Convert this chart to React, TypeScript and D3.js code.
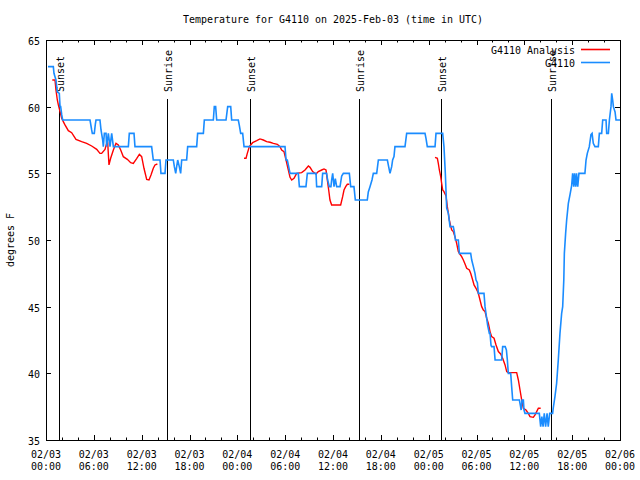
import React from 'react';
import * as d3 from 'd3';

// ---------------- DATA ----------------
const START = Date.UTC(2025, 1, 3, 0, 0);
const END = Date.UTC(2025, 1, 6, 0, 0);

const chartTitle = 'Temperature for G4110 on 2025-Feb-03 (time in UTC)';
const yAxisTitle = 'degrees F';
const seriesNames = ['G4110 Analysis', 'G4110'];
const seriesColors = ['#ff0000', '#1a8cff'];
const yTickValues = [35, 40, 45, 50, 55, 60, 65];

// Observations (hours after 2025-02-03 00:00 UTC, deg F)
const obsHours = [
  0.25, 0.92, 1.0, 1.25, 1.42, 1.67, 1.76, 1.84, 1.97, 2.09, 5.52, 5.73, 5.81, 6.06, 6.19, 6.27, 6.77, 6.9, 7.11, 7.19,
  7.32, 7.53, 7.61, 7.82, 8.03, 8.24, 8.45, 10.33, 10.45, 11.04, 11.16, 13.25, 13.46, 14.3, 14.42, 14.93, 15.05, 15.97,
  16.1, 16.27, 16.39, 16.52, 16.72, 16.89, 17.02, 17.64, 17.77, 18.9, 19.02, 19.74, 19.86, 20.99, 21.11, 21.28, 21.41,
  22.58, 22.79, 23.17, 23.29, 24.12, 24.25, 24.42, 24.67, 24.84, 29.98, 30.11, 30.27, 30.44, 30.61, 31.65, 31.78, 32.61,
  32.78, 33.87, 33.95, 34.58, 34.7, 35.2, 35.33, 35.54, 35.74, 35.83, 35.96, 36.13, 36.29, 36.46, 36.88, 37.09, 37.3,
  38.05, 38.22, 38.63, 38.8, 40.3, 40.43, 40.64, 40.89, 41.06, 41.48, 41.69, 42.82, 42.98, 43.15, 43.36, 43.48, 43.65,
  43.77, 45.03, 45.24, 47.54, 47.67, 47.83, 48.8, 48.92, 49.76, 49.84, 49.92, 50.09, 50.18, 50.26, 50.47, 50.68, 51.09,
  51.22, 51.35, 51.72, 51.85, 53.27, 53.4, 53.61, 53.81, 53.94, 54.11, 54.23, 54.94, 55.07, 55.28, 55.4, 55.61, 55.7,
  55.82, 55.9, 56.2, 56.33, 57.16, 57.28, 57.6, 57.75, 57.87, 57.99, 58.29, 58.41, 58.54, 59.38, 59.5, 59.6, 59.71,
  59.88, 59.96, 60.08, 61.88, 62.05, 62.2, 62.35, 62.5, 62.67, 62.85, 63.0, 63.18, 63.55, 63.63, 63.84, 64.05, 64.26,
  64.47, 64.68, 64.81, 64.95, 65.02, 65.18, 65.31, 65.52, 65.73, 65.94, 66.06, 66.2, 66.3, 66.45, 66.55, 66.7, 66.85,
  67.6, 67.74, 67.9, 68.15, 68.36, 68.5, 68.65, 68.86, 69.28, 69.41, 69.7, 69.83, 70.25, 70.33, 70.54, 70.67, 70.87,
  70.96, 71.08, 71.17, 71.38, 71.5, 72.0,
];
const obsTemps = [
  63, 63, 62.5, 62, 61.1, 61, 60, 60, 59.4, 59, 59, 58.25, 58, 58, 58.7, 59, 59, 58.25, 57.5, 57,
  58, 58, 57, 58, 57, 58, 57, 57, 58, 58, 57, 57, 56, 56, 55, 55, 56, 56,
  55.5, 55, 55.5, 56, 55.5, 55, 56, 56, 57, 57, 58, 58, 59, 59, 60, 60, 59,
  59, 60, 60, 59, 59, 58.6, 58, 58, 57, 57, 56, 56, 55.5, 55, 55, 54, 54,
  55, 55, 54, 54, 55, 55, 54.5, 54, 54, 54.5, 55, 54, 54.6, 54, 54, 54.8, 55,
  55, 54, 54, 53, 53, 53.6, 54, 54.5, 55, 55, 56, 56, 55.5, 55, 55.5, 56, 56.25,
  57, 57, 58, 58, 57.6, 57, 57, 58, 58, 57.5, 57, 55, 53.6, 52.4, 52, 51, 51,
  50.6, 50, 50, 49, 49, 48.5, 48, 47.5, 47, 46.8, 46, 46, 45, 44.1, 43.6, 43, 43,
  42.1, 42, 42, 41, 41, 42, 42, 41.75, 41, 40, 40, 39, 38, 38, 37.6, 37.25, 38,
  38, 37.25, 37, 37, 36, 36.75, 36, 37, 36, 37, 36, 37, 37, 37.4, 38.25, 39.25, 41,
  43, 44.5, 45, 47, 49, 50.5, 51.5, 52.75, 53.4, 54.1, 55, 54, 55, 54, 55, 54, 55,
  55, 56, 56.5, 57, 57.9, 58, 57.25, 57, 57, 58, 58, 59, 59, 58, 58, 59, 60,
  61, 60.5, 60, 59.6, 59, 59,
];

// Analysis (null = gap between runs)
const anaHours = [
  0.79, 1.13, 1.25, 1.42, 1.55, 1.76, 1.97, 2.17, 2.38, 2.8, 3.22, 3.76, 4.47, 5.1, 5.73, 6.36, 6.77, 6.98, 7.4, 7.61,
  7.74, 7.9, 8.11, 8.45, 8.78, 9.07, 9.37, 9.7, 10.2, 10.62, 10.95, 11.37, 11.71, 12.0, 12.29, 12.63, 12.92, 13.17,
  13.46, 13.67, 13.97, 19,
  24.84, 25.09, 25.25, 25.51, 25.67, 25.92, 26.43, 26.84, 27.26, 27.68, 28.1, 28.52, 29.02, 29.35, 29.56, 29.85, 30.11,
  30.4, 30.61, 30.82, 31.11, 31.44, 32.07, 32.49, 32.91, 33.12, 33.45, 33.87, 34.16, 34.58, 34.87, 35.12, 35.29, 35.46,
  35.62, 35.83, 36.38, 36.96, 37.21, 37.38, 37.59, 37.8, 38.05, 43,
  48.8, 49.09, 49.21, 49.34, 49.51, 49.63, 49.76, 49.92, 50.18, 50.34, 50.47, 50.59, 50.76, 50.89, 51.09, 51.3, 51.51,
  51.72, 51.93, 52.14, 52.35, 52.56, 52.77, 53.1, 53.27, 53.52, 53.69, 53.94, 54.23, 54.44, 54.65, 54.86, 55.07, 55.28,
  55.49, 55.7, 55.9, 56.2, 56.45, 56.74, 57.03, 57.28, 57.58, 57.79, 57.99, 59.04, 59.25, 59.46, 59.67, 59.88, 60.21,
  60.5, 60.71, 61.13, 61.34, 61.55, 61.76, 62.05,
];
const anaTemps: (number | null)[] = [
  62, 62, 61.25, 60.5, 60.13, 59.63, 59.13, 58.88, 58.63, 58.2, 58.05, 57.55, 57.38, 57.25, 57.05, 56.8, 56.5, 56.5, 56.8, 57.25,
  57.3, 55.63, 56.13, 56.75, 57.25, 57.13, 56.75, 56.25, 56.05, 55.8, 55.75, 56.1, 56.43, 56.25, 55.38, 54.55, 54.5, 54.88,
  55.38, 55.63, 55.7, null,
  56.13, 56.13, 56.5, 57.0, 57.13, 57.3, 57.45, 57.58, 57.5, 57.38, 57.33, 57.25, 57.18, 57.0, 56.75, 56.63, 56.0,
  55.25, 54.7, 54.5, 54.63, 55.0, 55.05, 55.25, 55.55, 55.45, 55.13, 54.95, 55.13, 55.25, 55.33, 55.25, 54.5, 53.75,
  53.0, 52.63, 52.63, 52.63, 53.25, 53.75, 54.0, 54.18, 54.18, null,
  56.2, 56.13, 55.75, 55.25, 54.75, 54.25, 53.75, 53.63, 53.3, 52.5, 52, 51.5, 51.05, 50.75, 50.63, 50.25, 49.75,
  49.13, 48.93, 48.75, 48.5, 48.2, 47.88, 47.75, 47.5, 47.0, 46.63, 46.38, 46.0, 45.5, 45.0, 44.75, 44.63, 44.13,
  43.75, 43.13, 42.75, 42.63, 42.13, 41.63, 41.45, 41.13, 40.63, 40.13, 40.05, 40.05, 39.5, 38.75, 38.0, 37.38, 37.25,
  37.0, 36.75, 36.7, 36.88, 37.13, 37.38, 37.38,
];

const sunEventHours = [1.67, 15.22, 25.59, 39.3, 49.55, 63.35];
const sunEventLabels = ['Sunset', 'Sunrise', 'Sunset', 'Sunrise', 'Sunset', 'Sunrise'];

// ---------------- LAYOUT ----------------
const W = 640;
const H = 480;
const L = 46;
const R = 620;
const TOP = 40;
const BOT = 440;
const FONT = "'DejaVu Sans Mono', 'Liberation Mono', monospace";
const CW = 6; // char width

const hourToDate = (h: number) => new Date(START + h * 3600 * 1000);

function Txt(props: {
  x: number; y: number; s: string; anchor?: 'start' | 'middle' | 'end'; rotate?: number; size?: number;
}) {
  const { x, y, s, anchor = 'start', rotate = 0, size = 11 } = props;
  return (
    <text
      transform={`translate(${x},${y}) rotate(${rotate})`}
      textAnchor={anchor}
      fontFamily={FONT}
      fontSize={size}
      fill="#000"
      textLength={s.length * CW}
      lengthAdjust="spacingAndGlyphs"
    >
      {s}
    </text>
  );
}

export default function App() {
  const x = d3.scaleUtc().domain([new Date(START), new Date(END)]).range([L, R]);
  const y = d3.scaleLinear().domain([35, 65]).range([BOT, TOP]);

  const majorTicks = x.ticks(d3.utcHour.every(6)!);
  const minorTicks = x.ticks(d3.utcHour.every(2)!).filter((d) => d.getUTCHours() % 6 !== 0);
  const fmtDate = d3.utcFormat('%m/%d');
  const fmtTime = d3.utcFormat('%H:%M');

  const obsData = obsHours.map((h, i) => ({ d: hourToDate(h), v: obsTemps[i] as number | null }));
  const anaData = anaHours.map((h, i) => ({ d: hourToDate(h), v: anaTemps[i] }));

  const line = d3
    .line<{ d: Date; v: number | null }>()
    .defined((p) => p.v !== null)
    .x((p) => x(p.d))
    .y((p) => y(p.v as number));

  const clipId = 'plotclip';

  return (
    <svg
      width={W}
      height={H}
      viewBox={`0 0 ${W} ${H}`}
      style={{ position: 'absolute', left: 0, top: 0, background: '#fff' }}
    >
      <rect x={0} y={0} width={W} height={H} fill="#fff" />
      <defs>
        <clipPath id={clipId}>
          <rect x={L} y={TOP} width={R - L} height={BOT - TOP} />
        </clipPath>
      </defs>

      {/* title */}
      <Txt x={(L + R) / 2} y={23} s={chartTitle} anchor="middle" />

      {/* y axis title */}
      <Txt x={14} y={(TOP + BOT) / 2} s={yAxisTitle} anchor="middle" rotate={-90} />

      {/* y ticks & labels */}
      {yTickValues.map((v) => (
        <g key={'y' + v}>
          <line x1={L} x2={L + 5} y1={Math.round(y(v)) + 0.5} y2={Math.round(y(v)) + 0.5} stroke="#000" />
          <line x1={R} x2={R - 5} y1={Math.round(y(v)) + 0.5} y2={Math.round(y(v)) + 0.5} stroke="#000" />
          <Txt x={40} y={y(v) + 5} s={String(v)} anchor="end" />
        </g>
      ))}

      {/* x ticks & labels */}
      {majorTicks.map((d) => {
        const px = Math.round(x(d)) + 0.5;
        return (
          <g key={'xm' + d.getTime()}>
            <line x1={px} x2={px} y1={BOT} y2={BOT - 5} stroke="#000" />
            <line x1={px} x2={px} y1={TOP} y2={TOP + 5} stroke="#000" />
            <Txt x={x(d)} y={458} s={fmtDate(d)} anchor="middle" />
            <Txt x={x(d)} y={470} s={fmtTime(d)} anchor="middle" />
          </g>
        );
      })}
      {minorTicks.map((d) => {
        const px = Math.round(x(d)) + 0.5;
        return (
          <g key={'xn' + d.getTime()}>
            <line x1={px} x2={px} y1={BOT} y2={BOT - 2.5} stroke="#000" />
            <line x1={px} x2={px} y1={TOP} y2={TOP + 2.5} stroke="#000" />
          </g>
        );
      })}

      {/* sun events */}
      {sunEventHours.map((h, i) => {
        const px = Math.round(x(hourToDate(h))) + 0.5;
        return (
          <g key={'sun' + i}>
            <line x1={px} x2={px} y1={99} y2={BOT} stroke="#000" strokeWidth={1} />
            <Txt x={px + 4.5} y={92} s={sunEventLabels[i]} rotate={-90} />
          </g>
        );
      })}

      {/* series */}
      <g clipPath={`url(#${clipId})`}>
        <path d={line(anaData) || ''} fill="none" stroke={seriesColors[0]} strokeWidth={1.4} strokeLinejoin="miter" />
        <path d={line(obsData) || ''} fill="none" stroke={seriesColors[1]} strokeWidth={1.6} strokeLinejoin="miter" />
      </g>

      {/* legend */}
      {seriesNames.map((n, i) => (
        <g key={'lg' + i}>
          <Txt x={575} y={54 + i * 13} s={n} anchor="end" />
          <line x1={581} x2={610} y1={49.5 + i * 13} y2={49.5 + i * 13} stroke={seriesColors[i]} strokeWidth={1.6} />
        </g>
      ))}

      {/* frame */}
      <rect x={L + 0.5} y={TOP + 0.5} width={R - L} height={BOT - TOP} fill="none" stroke="#000" strokeWidth={1} />
    </svg>
  );
}
